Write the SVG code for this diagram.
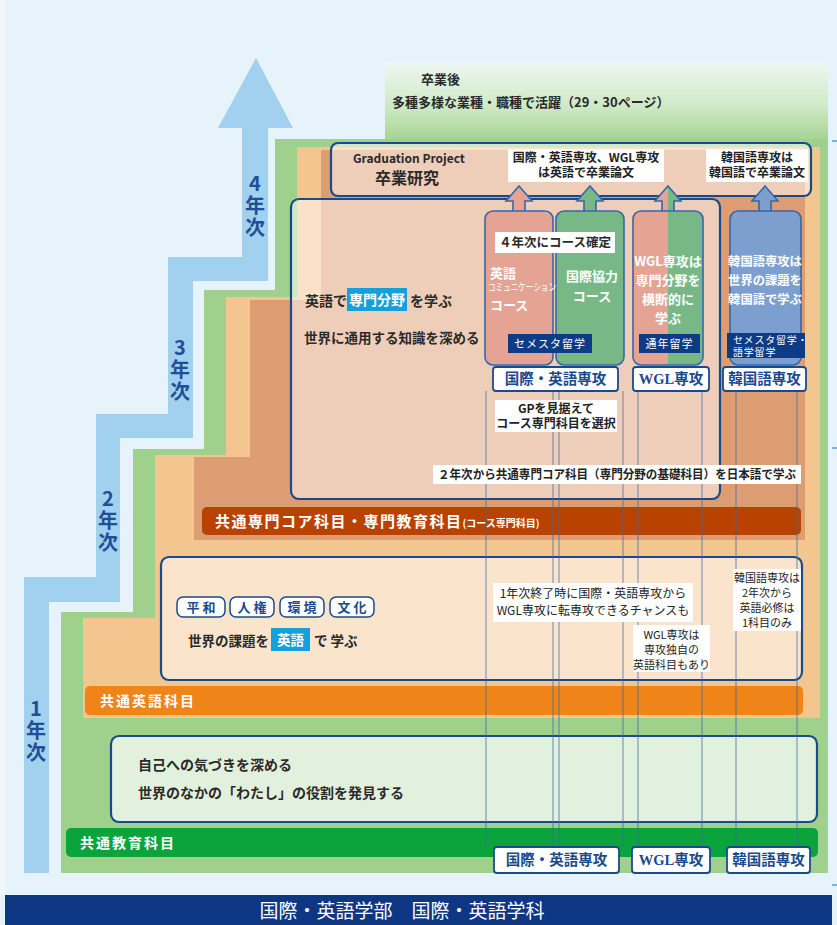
<svg xmlns="http://www.w3.org/2000/svg" width="837" height="925" viewBox="0 0 837 925">
<style>
text{font-family:"Noto Sans CJK JP","Noto Sans",sans-serif;}
.b{font-weight:bold;}
.dk{fill:#2a2a2a;}
.wt{fill:#fff;}
.yr{font-size:20px;font-weight:bold;fill:#1f4f96;writing-mode:vertical-rl;text-orientation:upright;letter-spacing:2px;}
.box{stroke:#1b4a8c;stroke-width:2.2;}
.col{stroke:#3567ab;stroke-width:1.6;}
.note{fill:#fff;}
.navy{fill:#0d3b85;}
.lbl{fill:#fff;stroke:#1b4a8c;stroke-width:1.8;}
.lbltx{font-family:"Liberation Serif","Noto Sans CJK JP",serif;font-weight:bold;font-size:14.5px;fill:#1b4a8c;text-anchor:middle;}
.tag{fill:#fff;stroke:#1b4a8c;stroke-width:1.5;}
.tagtx{font-size:13px;font-weight:bold;fill:#1b4a8c;text-anchor:middle;letter-spacing:3px;}
.vl{stroke:#3f6aa8;stroke-width:1;opacity:0.75;}
.ctx{font-size:13px;font-weight:bold;fill:#fff;text-anchor:middle;}
.ktx{font-size:12.3px;font-weight:bold;fill:#fff;text-anchor:middle;}
.nt{font-size:12px;fill:#222;text-anchor:middle;}
.ns{font-size:11px;fill:#222;text-anchor:middle;}
</style>
<defs>
<linearGradient id="gtop" x1="0" y1="0" x2="0" y2="1">
<stop offset="0" stop-color="#eef7f3"/>
<stop offset="0.55" stop-color="#cfe9c6"/>
<stop offset="1" stop-color="#a3d38f"/>
</linearGradient>
</defs>
<rect width="837" height="925" fill="#e7f3fa"/>
<rect x="0" y="0" width="6" height="895" fill="#f1f8fc"/>
<g id="after-graduation">
<rect x="385" y="62" width="443" height="80" fill="url(#gtop)"/>
<text x="421" y="84" font-size="13" class="b dk">卒業後</text>
<text x="392" y="107" font-size="13" class="b dk">多種多様な業種・職種で活躍（29・30ページ）</text>
</g>
<g id="year-arrow">
<polygon points="256,58 293,128 268,128 268,281 193,281 193,438 120,438 120,602 49,602 49,873 24,873 24,577 96,577 96,414 168,414 168,257 242,257 242,128 218,128" fill="#a2d0ef"/>
<text class="yr" x="255" y="173">4年次</text>
<text class="yr" x="180" y="337">3年次</text>
<text class="yr" x="108" y="488">2年次</text>
<text class="yr" x="36" y="698">1年次</text>
</g>
<g id="layers">
<polygon points="275,139 828,139 828,873 61,873 61,612 133,612 133,449 204,449 204,290 275,290" fill="#9fd08c"/>
<polygon points="297,147 820,147 820,718 83,718 83,618 155,618 155,455 226,455 226,297 297,297" fill="#f3c58f"/>
<polygon points="321,150 805,150 805,540 194,540 194,457 250,457 250,300 321,300" fill="#dc9d73"/>
</g>
<g id="graduation">
<rect class="box" x="331" y="143" width="480" height="53" rx="7" fill="#fff" fill-opacity="0.5"/>
<text x="353" y="163" font-size="12" class="b dk">Graduation Project</text>
<text x="375" y="184" font-size="16" class="b dk">卒業研究</text>
<rect class="note" x="508" y="149" width="156" height="33"/>
<text class="nt b" x="586" y="162">国際・英語専攻、WGL専攻<tspan x="586" dy="15">は英語で卒業論文</tspan></text>
<rect class="note" x="706" y="149" width="102" height="33"/>
<text class="nt b" x="757" y="162">韓国語専攻は<tspan x="757" dy="15">韓国語で卒業論文</tspan></text>
</g>
<g id="year3">
<rect class="box" x="291" y="199" width="429" height="300" rx="8" fill="#fff" fill-opacity="0.5"/>
<text x="305" y="306" font-size="14" class="b dk">英語で</text>
<rect x="347" y="288" width="60" height="23" fill="#14a0db"/>
<text x="377" y="305" font-size="14" class="b wt" text-anchor="middle">専門分野</text>
<text x="410" y="306" font-size="14" class="b dk">を学ぶ</text>
<text x="304" y="343" font-size="13.5" class="b dk">世界に通用する知識を深める</text>
</g>
<g id="core-bar">
<rect x="202" y="507" width="599" height="28" rx="5" fill="#b94200"/>
<text x="215" y="527" font-size="15" class="b wt" letter-spacing="1.5">共通専門コア科目・専門教育科目<tspan font-size="10" letter-spacing="0">(コース専門科目)</tspan></text>
</g>
<g id="year2">
<rect class="box" x="161" y="557" width="641" height="123" rx="8" fill="#fff" fill-opacity="0.55"/>
<rect class="tag" x="177" y="597" width="48" height="20" rx="6"/><text class="tagtx" x="202.5" y="612">平和</text>
<rect class="tag" x="230" y="597" width="44" height="20" rx="6"/><text class="tagtx" x="253.5" y="612">人権</text>
<rect class="tag" x="280" y="597" width="44" height="20" rx="6"/><text class="tagtx" x="303.5" y="612">環境</text>
<rect class="tag" x="330" y="597" width="44" height="20" rx="6"/><text class="tagtx" x="353.5" y="612">文化</text>
<text x="188" y="646" font-size="13.5" class="b dk">世界の課題を</text>
<rect x="271" y="628" width="39" height="23" fill="#14a0db"/>
<text x="290.5" y="645" font-size="13.5" class="b wt" text-anchor="middle">英語</text>
<text x="314" y="646" font-size="13.5" class="b dk">で 学ぶ</text>
</g>
<g id="english-bar">
<rect x="85" y="686" width="718" height="29" rx="5" fill="#ef8418"/>
<text x="100" y="706" font-size="14" class="b wt" letter-spacing="2">共通英語科目</text>
</g>
<g id="year1">
<rect class="box" x="111" y="736" width="706" height="86" rx="8" fill="#fff" fill-opacity="0.7"/>
<text x="138" y="770" font-size="14" class="b dk">自己への気づきを深める</text>
<text x="138" y="798" font-size="14" class="b dk">世界のなかの「わたし」の役割を発見する</text>
</g>
<g id="general-bar">
<rect x="66" y="828" width="752" height="29" rx="5" fill="#0ba33c"/>
<text x="80" y="848" font-size="14" class="b wt" letter-spacing="2">共通教育科目</text>
</g>
<g id="connectors">
<line class="vl" x1="486" y1="391" x2="486" y2="847"/>
<line class="vl" x1="553" y1="391" x2="553" y2="847"/>
<line class="vl" x1="559" y1="391" x2="559" y2="847"/>
<line class="vl" x1="623" y1="391" x2="623" y2="847"/>
<line class="vl" x1="638" y1="391" x2="638" y2="847"/>
<line class="vl" x1="702" y1="391" x2="702" y2="847"/>
<line class="vl" x1="736" y1="391" x2="736" y2="847"/>
<line class="vl" x1="797" y1="391" x2="797" y2="847"/>
</g>
<g id="course-english">
<path class="col" d="M519,186 L532,201 L525,201 L525,212 L513,212 L513,201 L506,201 Z" fill="#e5a393"/>
<rect class="col" x="485" y="211" width="68" height="154" rx="8" fill="#e5a393"/>
</g>
<g id="course-cooperation">
<path class="col" d="M590,186 L603,201 L596,201 L596,212 L584,212 L584,201 L577,201 Z" fill="#78b886"/>
<rect class="col" x="556" y="211" width="68" height="154" rx="8" fill="#78b886"/>
</g>
<g id="course-wgl">
<path d="M668,186 L668,212 L662,212 L662,201 L655,201 Z" fill="#e5a393"/>
<path d="M668,186 L681,201 L674,201 L674,212 L668,212 Z" fill="#78b886"/>
<path class="col" d="M668,186 L681,201 L674,201 L674,212 L662,212 L662,201 L655,201 Z" fill="none"/>
<path d="M641,211 H668 V365 H641 A8,8 0 0 1 633,357 V219 A8,8 0 0 1 641,211 Z" fill="#e5a393"/>
<path d="M668,211 H695 A8,8 0 0 1 703,219 V357 A8,8 0 0 1 695,365 H668 Z" fill="#78b886"/>
<rect class="col" x="633" y="211" width="70" height="154" rx="8" fill="none"/>
<text class="ctx" x="668" y="266">WGL専攻は<tspan x="668" dy="19">専門分野を</tspan><tspan x="668" dy="19">横断的に</tspan><tspan x="668" dy="19">学ぶ</tspan></text>
<rect class="navy" x="639" y="334" width="61" height="19"/>
<text x="669.5" y="348" font-size="11" class="wt" text-anchor="middle" letter-spacing="1">通年留学</text>
</g>
<g id="course-korean">
<path class="col" d="M765,186 L778,201 L771,201 L771,212 L759,212 L759,201 L752,201 Z" fill="#7d9fcf"/>
<rect class="col" x="730" y="211" width="71" height="154" rx="8" fill="#7d9fcf"/>
<text class="ktx" x="765" y="266">韓国語専攻は<tspan x="765" dy="19">世界の課題を</tspan><tspan x="765" dy="19">韓国語で学ぶ</tspan></text>
<rect class="navy" x="727" y="333" width="78" height="25"/>
<text x="733" y="344" font-size="10" class="wt" letter-spacing="0.8">セメスタ留学・<tspan x="733" dy="12">語学留学</tspan></text>
</g>
<g id="course-texts">
<text x="490" y="278" font-size="13" class="b wt">英語<tspan x="488" dy="13" font-size="10.5" font-weight="normal" textLength="68" lengthAdjust="spacingAndGlyphs">コミュニケーション</tspan><tspan x="490" dy="19">コース</tspan></text>
<text class="ctx" x="592" y="281">国際協力<tspan x="592" dy="20">コース</tspan></text>
<rect class="note" x="495" y="232" width="120" height="21"/>
<text x="555" y="247" font-size="12.5" class="b dk" text-anchor="middle">４年次にコース確定</text>
<rect class="navy" x="508" y="334" width="84" height="19"/>
<text x="550" y="348" font-size="11" class="wt" text-anchor="middle" letter-spacing="1">セメスタ留学</text>
</g>
<g id="major-labels-top">
<rect class="lbl" x="493" y="367" width="125" height="24" rx="3"/><text class="lbltx" x="555.5" y="384">国際・英語専攻</text>
<rect class="lbl" x="633" y="367" width="76" height="24" rx="3"/><text class="lbltx" x="671" y="384">WGL専攻</text>
<rect class="lbl" x="723" y="367" width="83" height="24" rx="3"/><text class="lbltx" x="764.5" y="384">韓国語専攻</text>
</g>
<g id="notes">
<rect class="note" x="495" y="400" width="122" height="32"/>
<text class="nt b" x="556" y="413">GPを見据えて<tspan x="556" dy="15">コース専門科目を選択</tspan></text>
<rect class="note" x="433" y="465" width="368" height="19"/>
<text class="nt b" x="617" y="479" textLength="358" lengthAdjust="spacingAndGlyphs">２年次から共通専門コア科目（専門分野の基礎科目）を日本語で学ぶ</text>
<rect class="note" x="493" y="583" width="200" height="39"/>
<text class="nt" x="593" y="598">1年次終了時に国際・英語専攻から<tspan x="593" dy="17">WGL専攻に転専攻できるチャンスも</tspan></text>
<rect class="note" x="633" y="625" width="77" height="47"/>
<text class="ns" x="671.5" y="639">WGL専攻は<tspan x="671.5" dy="15">専攻独自の</tspan><tspan x="671.5" dy="15">英語科目もあり</tspan></text>
<rect class="note" x="733" y="569" width="68" height="62"/>
<text class="ns" x="767" y="582">韓国語専攻は<tspan x="767" dy="15">2年次から</tspan><tspan x="767" dy="15">英語必修は</tspan><tspan x="767" dy="15">1科目のみ</tspan></text>
</g>
<g id="major-labels-bottom">
<rect class="lbl" x="494" y="847" width="125" height="26" rx="3"/><text class="lbltx" x="556.5" y="865">国際・英語専攻</text>
<rect class="lbl" x="632" y="847" width="78" height="26" rx="3"/><text class="lbltx" x="671" y="865">WGL専攻</text>
<rect class="lbl" x="727" y="847" width="83" height="26" rx="3"/><text class="lbltx" x="768.5" y="865">韓国語専攻</text>
</g>
<g id="marks">
<line x1="832" y1="141" x2="837" y2="141" stroke="#3f86c6" stroke-width="1.2"/>
<line x1="832" y1="448" x2="837" y2="448" stroke="#3f86c6" stroke-width="1.2"/>
<line x1="832" y1="885" x2="837" y2="885" stroke="#3f86c6" stroke-width="1.2"/>
</g>
<g id="footer">
<rect x="5" y="895" width="827" height="30" fill="#0d3683"/>
<text x="402" y="918" font-size="19" class="wt" text-anchor="middle" font-family="Liberation Serif,Noto Sans CJK JP,serif">国際・英語学部　国際・英語学科</text>
</g>
</svg>
